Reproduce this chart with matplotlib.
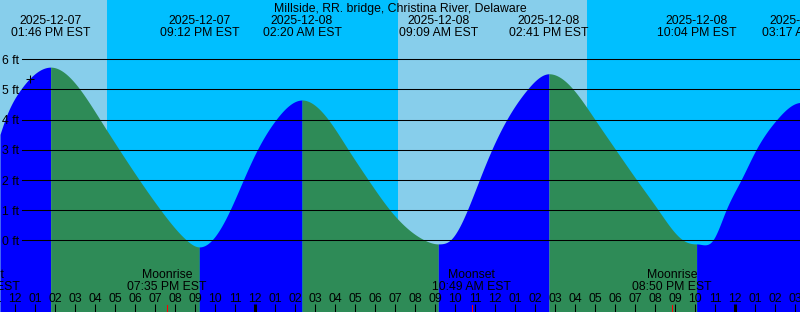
import numpy as np
import matplotlib
matplotlib.use("Agg")
import matplotlib.pyplot as plt
from matplotlib.transforms import blended_transform_factory
from datetime import datetime

# ---------------- data ----------------
title = "Millside, RR. bridge, Christina River, Delaware"
base = datetime(2025, 12, 7)

tide_times = ["2025-12-07 13:46", "2025-12-07 21:12", "2025-12-08 02:20",
              "2025-12-08 09:09", "2025-12-08 14:41", "2025-12-08 22:04",
              "2025-12-09 03:17"]
tide_ft = [5.74, -0.22, 4.65, -0.12, 5.52, -0.12, 4.57]

# heights (hours after 2025-12-07 00:00, feet)
curve_hours = [11.235, 11.485, 12.27,
               15.235, 16.235, 17.2, 18.2, 19.27, 20.57,
               21.82, 22.735, 23.4, 24.1, 25.035,
               27.65, 28.65, 29.65, 30.735, 32.485,
               33.735, 34.6, 35.2, 35.82, 36.57, 37.6,
               39.9, 40.985, 42.02, 43.07, 44.15, 45.4,
               46.87, 47.535, 48.285, 49.035, 50.07]
curve_ft = [3.51, 4.0, 5.0,
            5.0, 4.0, 3.0, 2.0, 1.0, 0.0,
            0.0, 1.0, 2.0, 3.0, 4.0,
            4.0, 3.0, 2.0, 1.0, 0.0,
            0.0, 1.0, 2.0, 3.0, 4.0, 5.0,
            5.0, 4.0, 3.0, 2.0, 1.0, 0.0,
            0.0, 1.0, 2.0, 3.0, 4.0]

sun_times = ["2025-12-07 16:35", "2025-12-08 07:08", "2025-12-08 16:35"]
moon_times = ["2025-12-07 10:14", "2025-12-07 19:35", "2025-12-08 10:49", "2025-12-08 20:50"]
moon_events = ["Moonset", "Moonrise", "Moonset", "Moonrise"]
y_ticks_ft = [0, 1, 2, 3, 4, 5, 6]
now_time, now_ft = "2025-12-07 12:44", 5.34
t_start, t_end = 11.235, 51.235
ft_bottom, ft_top = -2.377, 7.965

# ---------------- helpers ----------------
W, H = 800, 312


def parse(s):
    return datetime.strptime(s, "%Y-%m-%d %H:%M")


def hrs(s):
    return (parse(s) - base).total_seconds() / 3600.0


def spline_segment(x, y, xn, clamp_left, clamp_right):
    """Cubic spline through (x, y); zero slope at clamped ends, natural otherwise."""
    x = np.asarray(x, float)
    y = np.asarray(y, float)
    n = len(x)
    h = np.diff(x)
    d = np.diff(y) / h
    A = np.zeros((n, n))
    b = np.zeros(n)
    if clamp_left:
        A[0, 0] = 1.0
    else:
        A[0, 0], A[0, 1], b[0] = 2.0, 1.0, 3 * d[0]
    if clamp_right:
        A[-1, -1] = 1.0
    else:
        A[-1, -1], A[-1, -2], b[-1] = 2.0, 1.0, 3 * d[-1]
    for i in range(1, n - 1):
        A[i, i - 1] = h[i]
        A[i, i] = 2 * (h[i - 1] + h[i])
        A[i, i + 1] = h[i - 1]
        b[i] = 3 * (h[i] * d[i - 1] + h[i - 1] * d[i])
    m = np.linalg.solve(A, b)
    i = np.clip(np.searchsorted(x, xn) - 1, 0, n - 2)
    hh = h[i]
    t = (xn - x[i]) / hh
    h00 = 2 * t**3 - 3 * t**2 + 1
    h10 = t**3 - 2 * t**2 + t
    h01 = -2 * t**3 + 3 * t**2
    h11 = t**3 - t**2
    return h00 * y[i] + h10 * hh * m[i] + h01 * y[i + 1] + h11 * hh * m[i + 1]


plt.rcParams['font.family'] = ['Liberation Sans', 'DejaVu Sans']
FS = 8.8

fig = plt.figure(figsize=(W / 100, H / 100), dpi=100)
ax = fig.add_axes([0, 0, 1, 1])
ax.set_xlim(t_start, t_end)
ax.set_ylim(ft_bottom, ft_top)
ax.axis('off')
tr = blended_transform_factory(ax.transData, fig.transFigure)


def fy(ypix):
    return 1 - ypix / H


# background day / night
sun_h = [hrs(s) for s in sun_times]
edges = [t_start] + sun_h + [t_end]
for k in range(len(edges) - 1):
    col = '#87CEEB' if k % 2 == 0 else '#00BFFF'
    ax.axvspan(edges[k], edges[k + 1], color=col, lw=0, zorder=0)

# tide curve: one spline per monotone stretch between extremes
ext_h = [hrs(s) for s in tide_times]
ch = np.array(curve_hours)
cf = np.array(curve_ft)
bounds = [t_start] + [e for e in ext_h if t_start < e < t_end] + [t_end]
ext_map = dict(zip(ext_h, tide_ft))
for k in range(len(bounds) - 1):
    a, bnd = bounds[k], bounds[k + 1]
    xs, ys = [], []
    left_ext = a in ext_map
    right_ext = bnd in ext_map
    if left_ext:
        xs.append(a); ys.append(ext_map[a])
    sel = (ch >= a - 1e-9) & (ch <= bnd + 1e-9)
    xs += list(ch[sel]); ys += list(cf[sel])
    clamp_right = right_ext
    if right_ext:
        xs.append(bnd); ys.append(ext_map[bnd])
    else:
        nxt = [e for e in ext_h if e >= bnd]
        if nxt:
            xs.append(nxt[0]); ys.append(ext_map[nxt[0]])
            clamp_right = True
    tt = np.linspace(a, bnd, 400)
    ff = spline_segment(xs, ys, tt, left_ext, clamp_right)
    col = '#0000FF' if ys[-1] > ys[0] else '#2E8B57'
    ax.fill_between(tt, ft_bottom, ff, color=col, lw=0, zorder=1)

# grid lines and labels
for v in y_ticks_ft:
    ax.axhline(v, xmin=21.7 / W, xmax=1, color='black', lw=0.75, zorder=3)
    ypix = 240.3 - v * 30.17
    fig.text(2 / W, fy(ypix + 4.7), f"{v} ft", fontsize=FS, ha='left', va='baseline', zorder=4)

# now marker
ax.plot([hrs(now_time)], [now_ft], marker='+', color='black', ms=6, mew=0.75, zorder=4)

# title
fig.text(0.5, fy(11.7), title, fontsize=FS, ha='center', va='baseline')

# tide event labels
for s in tide_times:
    d = parse(s)
    x = hrs(s)
    ax.text(x, fy(24), d.strftime("%Y-%m-%d"), transform=tr, fontsize=FS, ha='center', va='baseline')
    ax.text(x, fy(36), d.strftime("%I:%M %p EST"), transform=tr, fontsize=FS, ha='center', va='baseline')

# moon events
for s, name in zip(moon_times, moon_events):
    d = parse(s)
    x = hrs(s)
    ax.text(x, fy(278.3), name, transform=tr, fontsize=FS, ha='center', va='baseline', zorder=5)
    ax.text(x, fy(290), d.strftime("%I:%M %p EST"), transform=tr, fontsize=FS, ha='center', va='baseline', zorder=5)
    ax.plot([x, x], [fy(305), fy(312)], transform=tr, color='red', lw=0.75, zorder=6, clip_on=False)

# hour ticks
for hh in range(int(np.floor(t_start)), int(np.ceil(t_end)) + 1):
    lab = f"{(hh % 12) or 12:02d}"
    ax.text(hh, fy(302.3), lab, transform=tr, fontsize=FS, ha='center', va='baseline', zorder=5)
    lw = 2.2 if hh % 24 == 0 else 0.75
    ax.plot([hh, hh], [fy(304), fy(312)], transform=tr, color='black', lw=lw, zorder=5,
            solid_capstyle='butt', clip_on=False)

fig.savefig("out.png", dpi=100)
